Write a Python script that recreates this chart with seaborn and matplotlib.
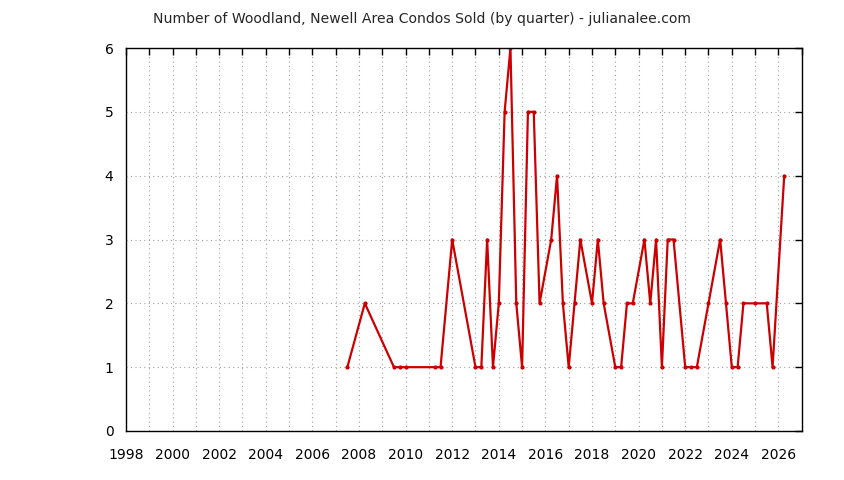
import numpy as np
import pandas as pd
import matplotlib
matplotlib.use("Agg")
import matplotlib.pyplot as plt
import seaborn as sns

# quarter positions (year + (q-1)/4) and number of condos sold
quarters = [2007.5, 2008.25, 2009.5, 2009.75, 2010.0, 2011.25, 2011.5, 2012.0,
            2013.0, 2013.25, 2013.5, 2013.75, 2014.0, 2014.25, 2014.5, 2014.75,
            2015.0, 2015.25, 2015.5, 2015.75, 2016.25, 2016.5, 2016.75, 2017.0,
            2017.25, 2017.5, 2018.0, 2018.25, 2018.5, 2019.0, 2019.25, 2019.5,
            2019.75, 2020.25, 2020.5, 2020.75, 2021.0, 2021.25, 2021.5, 2022.0,
            2022.25, 2022.5, 2023.0, 2023.5, 2023.75, 2024.0, 2024.25, 2024.5,
            2025.0, 2025.5, 2025.75, 2026.25]
sold = [1, 2, 1, 1, 1, 1, 1, 3,
        1, 1, 3, 1, 2, 5, 6, 2,
        1, 5, 5, 2, 3, 4, 2, 1,
        2, 3, 2, 3, 2, 1, 1, 2,
        2, 3, 2, 3, 1, 3, 3, 1,
        1, 1, 2, 3, 2, 1, 1, 2,
        2, 2, 1, 4]
year_labels = list(range(1998, 2027, 2))

df = pd.DataFrame({"quarter": quarters, "sold": sold})

sns.set_style("white")
plt.rcParams['font.family'] = ['DejaVu Sans']

fig = plt.figure(figsize=(8.44, 4.8), dpi=100)
ax = fig.add_axes([126 / 844, 1 - 431 / 480, (801.7 - 126) / 844, (431 - 48) / 480])

sns.lineplot(data=df, x="quarter", y="sold", ax=ax, color="#cc0000",
             linewidth=1.6, marker="o", markersize=3, markeredgewidth=0)

ax.set_xlim(1998, 2027)
ax.set_ylim(0, 6)
ax.set_xticks(range(1998, 2028))
ax.set_xticklabels([str(y) if y in year_labels else "" for y in range(1998, 2028)])
ax.set_yticks(range(0, 7))
ax.grid(True, color="#a0a0a0", linestyle=(0, (1, 3)), linewidth=0.8)
ax.tick_params(direction="in", length=5, width=1, top=True, right=True,
               labelsize=10, colors="black")
ax.tick_params(axis="x", pad=12)
ax.tick_params(axis="y", pad=9)
for s in ax.spines.values():
    s.set_visible(True)
    s.set_color("black")
    s.set_linewidth(1)
ax.set_xlabel("")
ax.set_ylabel("")
fig.text(422 / 844, 1 - 19 / 480,
         "Number of Woodland, Newell Area Condos Sold (by quarter) - julianalee.com",
         ha="center", va="center", fontsize=10.1)

fig.savefig("out.png", dpi=100)
